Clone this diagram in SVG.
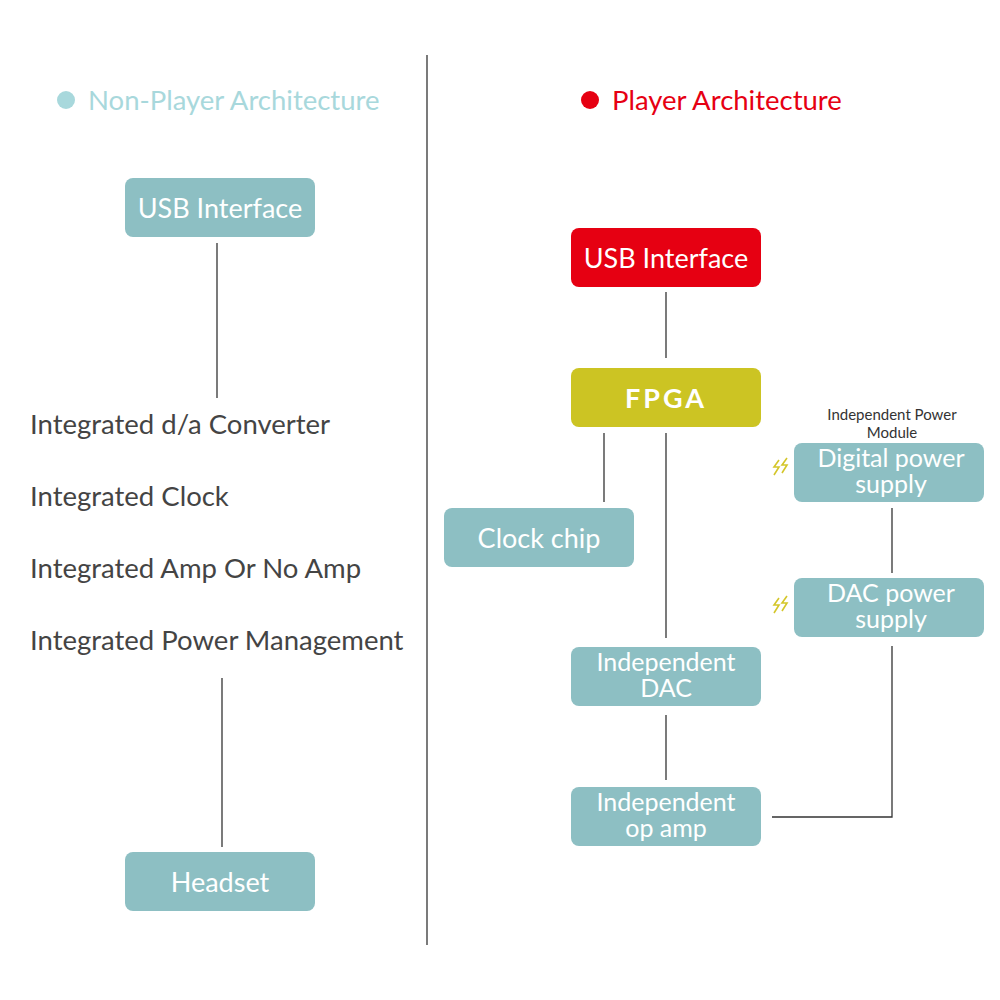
<svg xmlns="http://www.w3.org/2000/svg" width="1000" height="1000" viewBox="0 0 1000 1000">
<style>
text{font-family:Lato,"Open Sans","Liberation Sans",sans-serif}
.b{fill:#8dbfc3}
.bt{fill:#fff;font-size:27px;text-anchor:middle}
.bt2{fill:#fff;font-size:25px;text-anchor:middle}
.l{stroke:#333;stroke-width:1.3;fill:none}
.li{fill:#444;font-size:27.5px}
.z{stroke:#d4c62a;stroke-width:1.6;fill:none}
</style>
<rect width="1000" height="1000" fill="#fff"/>
<g id="connectors">
<line class="l" x1="427" y1="55" x2="427" y2="945"/>
<line class="l" x1="217" y1="243" x2="217" y2="398"/>
<line class="l" x1="222" y1="678" x2="222" y2="847"/>
<line class="l" x1="666" y1="292" x2="666" y2="358"/>
<line class="l" x1="604" y1="433" x2="604" y2="502"/>
<line class="l" x1="666" y1="433" x2="666" y2="638"/>
<line class="l" x1="666" y1="715" x2="666" y2="780"/>
<line class="l" x1="892" y1="508" x2="892" y2="573"/>
<polyline class="l" points="892,646 892,817 772,817"/>
</g>
<g id="headers">
<circle cx="66" cy="100" r="9" fill="#a8d8dc"/>
<text x="88" y="110" font-size="27.5" fill="#a8d8dc">Non-Player Architecture</text>
<circle cx="590" cy="100" r="9" fill="#e60012"/>
<text x="612" y="110" font-size="27.5" fill="#e60012">Player Architecture</text>
</g>
<g id="usb-left"><rect class="b" x="125" y="178" width="190" height="59" rx="8"/><text class="bt" x="220" y="218">USB Interface</text></g>
<g id="list">
<text class="li" x="30" y="434">Integrated d/a Converter</text>
<text class="li" x="30" y="506">Integrated Clock</text>
<text class="li" x="30" y="578">Integrated Amp Or No Amp</text>
<text class="li" x="30" y="650">Integrated Power Management</text>
</g>
<g id="headset"><rect class="b" x="125" y="852" width="190" height="59" rx="8"/><text class="bt" x="220" y="892">Headset</text></g>
<g id="usb-right"><rect x="571" y="228" width="190" height="59" rx="8" fill="#e60012"/><text class="bt" x="666" y="268">USB Interface</text></g>
<g id="fpga"><rect x="571" y="368" width="190" height="59" rx="8" fill="#ccc423"/><text class="bt" x="666" y="408" font-weight="bold" letter-spacing="3">FPGA</text></g>
<g id="clock"><rect class="b" x="444" y="508" width="190" height="59" rx="8"/><text class="bt" x="539" y="548">Clock chip</text></g>
<g id="module-label"><text x="892" y="420" font-size="15" fill="#333" text-anchor="middle">Independent Power</text><text x="892" y="438" font-size="15" fill="#333" text-anchor="middle">Module</text></g>
<g id="digital-ps"><rect class="b" x="794" y="443" width="190" height="59" rx="8"/><text class="bt2" x="891" y="467">Digital power</text><text class="bt2" x="891" y="493">supply</text>
<path class="z" d="M779,460 l-5,7 l5,0 l-5,8 M787,458 l-5,7 l5,0 l-5,8"/></g>
<g id="dac-ps"><rect class="b" x="794" y="578" width="190" height="59" rx="8"/><text class="bt2" x="891" y="602">DAC power</text><text class="bt2" x="891" y="628">supply</text>
<path class="z" d="M779,598 l-5,7 l5,0 l-5,8 M787,596 l-5,7 l5,0 l-5,8"/></g>
<g id="dac"><rect class="b" x="571" y="647" width="190" height="59" rx="8"/><text class="bt2" x="666" y="671">Independent</text><text class="bt2" x="666" y="697">DAC</text></g>
<g id="opamp"><rect class="b" x="571" y="787" width="190" height="59" rx="8"/><text class="bt2" x="666" y="811">Independent</text><text class="bt2" x="666" y="837">op amp</text></g>
</svg>
